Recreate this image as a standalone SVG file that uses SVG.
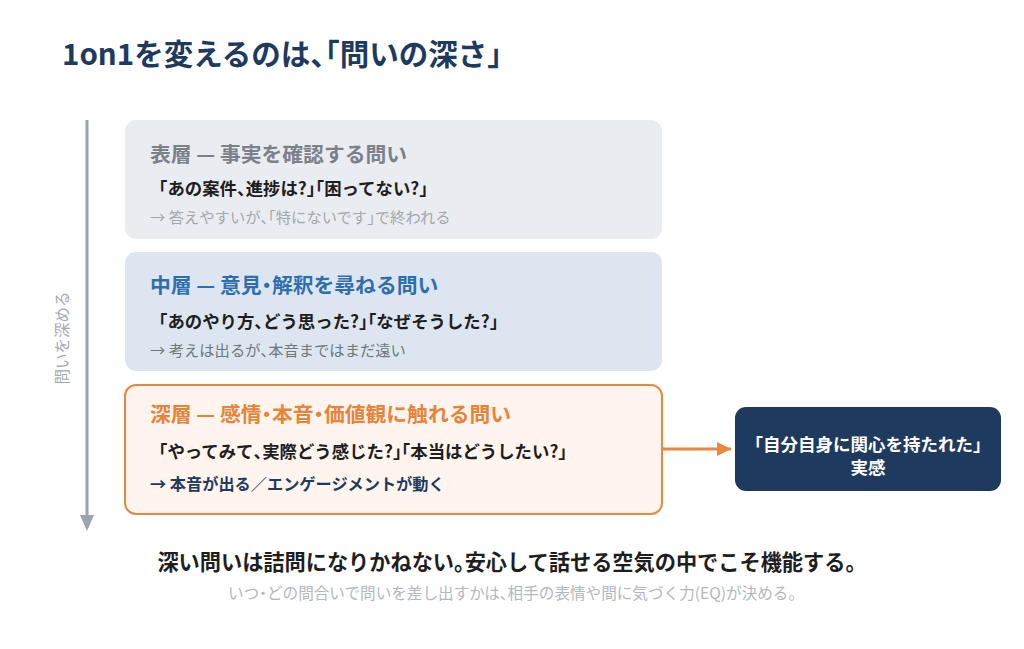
<svg xmlns="http://www.w3.org/2000/svg" width="1024" height="649" viewBox="0 0 1024 649">
<defs>
<style>
text{font-family:"Noto Sans CJK JP","Noto Sans",sans-serif;}
.h{font-feature-settings:"halt" 1;}
.title{font-size:29.5px;font-weight:700;fill:#1f3a5f;}
.lt{font-size:20.8px;font-weight:700;}
.q{font-size:17.4px;font-weight:700;fill:#1e1e1e;}
.n{font-size:15.3px;}
.nd{font-size:16.2px;font-weight:700;fill:#1f3a5f;}
</style>
<marker id="ah-orange" markerWidth="14" markerHeight="14" refX="14" refY="7" orient="auto" markerUnits="userSpaceOnUse" viewBox="0 0 14 14"><path d="M0,0 L14,7 L0,14 Z" fill="#e8883f"/></marker>
</defs>
<rect width="1024" height="649" fill="#ffffff"/>
<text class="title" x="62" y="65">1on1を変えるのは<tspan class="h">、「</tspan>問いの深さ」</text>

<g id="depth-axis">
<line x1="87" y1="120" x2="87" y2="518" stroke="#9aa3ae" stroke-width="3"/>
<path d="M80,515 L94,515 L87,531 Z" fill="#9aa3ae"/>
<text x="0" y="0" transform="translate(68,338) rotate(-90)" text-anchor="middle" font-size="15.5" fill="#a3aab3">問いを深める</text>
</g>

<g id="surface">
<rect x="125" y="120" width="537" height="119" rx="11" fill="#e9ecf0"/>
<text class="lt" x="150" y="162" fill="#7b8189">表層 — 事実を確認する問い</text>
<text class="q" x="150" y="195">「あの案件<tspan class="h">、</tspan>進捗は?<tspan class="h">」「</tspan>困ってない?」</text>
<text class="n" x="150" y="223" fill="#a3a8ae">→ 答えやすいが<tspan class="h">、「</tspan>特にないです<tspan class="h">」</tspan>で終われる</text>
</g>

<g id="middle">
<rect x="125" y="252" width="537" height="119" rx="11" fill="#dde6f0"/>
<text class="lt" x="150" y="293" fill="#2f6eae">中層 — 意見<tspan class="h">・</tspan>解釈を尋ねる問い</text>
<text class="q" x="150" y="328">「あのやり方<tspan class="h">、</tspan>どう思った?<tspan class="h">」「</tspan>なぜそうした?」</text>
<text class="n" x="150" y="356" fill="#6f767d">→ 考えは出るが<tspan class="h">、</tspan>本音まではまだ遠い</text>
</g>

<g id="deep">
<rect x="125" y="385" width="537" height="129" rx="11" fill="#fff5ee" stroke="#e8883f" stroke-width="2"/>
<text class="lt" x="150" y="422" fill="#e8833a">深層 — 感情<tspan class="h">・</tspan>本音<tspan class="h">・</tspan>価値観に触れる問い</text>
<text class="q" x="150" y="458">「やってみて<tspan class="h">、</tspan>実際どう感じた?<tspan class="h">」「</tspan>本当はどうしたい?」</text>
<text class="nd" x="150" y="490">→ 本音が出る／エンゲージメントが動く</text>
</g>

<g id="connectors">
<line x1="663" y1="449" x2="731" y2="449" stroke="#e8883f" stroke-width="3" marker-end="url(#ah-orange)"/>
</g>

<g id="result">
<rect x="735" y="407" width="266" height="84" rx="11" fill="#1f3a5f"/>
<text x="868" y="451" text-anchor="middle" font-size="17.5" font-weight="700" fill="#ffffff">「自分自身に関心を持たれた」</text>
<text x="868" y="474" text-anchor="middle" font-size="17.5" font-weight="700" fill="#ffffff">実感</text>
</g>

<text x="512" y="570" text-anchor="middle" font-size="21.2" font-weight="700" fill="#1e1e1e">深い問いは詰問になりかねない<tspan class="h">。</tspan>安心して話せる空気の中でこそ機能する。</text>
<text x="516" y="599" text-anchor="middle" font-size="15.6" fill="#b3b8bf">いつ<tspan class="h">・</tspan>どの間合いで問いを差し出すかは<tspan class="h">、</tspan>相手の表情や間に気づく力(EQ)が決める。</text>
</svg>
